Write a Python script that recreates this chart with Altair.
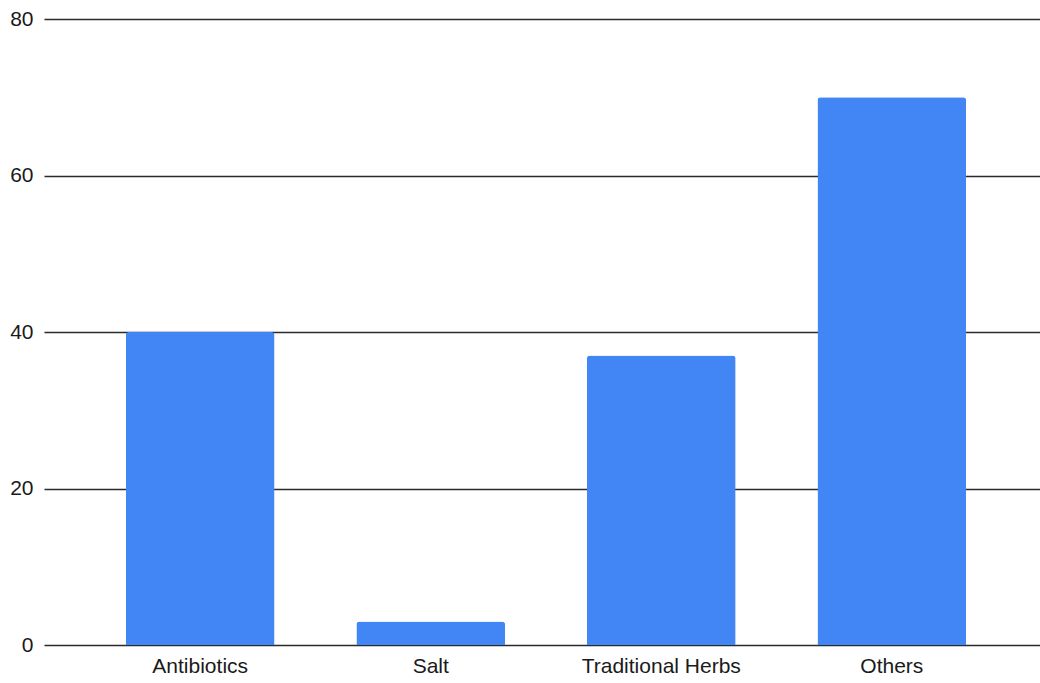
import altair as alt
import pandas as pd

categories = ["Antibiotics", "Salt", "Traditional Herbs", "Others"]
values = [40, 3, 37, 70]

df = pd.DataFrame({"category": categories, "value": values})

FONT = "Liberation Sans"

chart = alt.Chart(df).mark_bar(
    color="#4285F4", cornerRadiusTopLeft=3, cornerRadiusTopRight=3
).encode(
    x=alt.X("category:N", sort=categories, title=None,
            scale=alt.Scale(paddingInner=0.355, paddingOuter=0.355, range=[0, 1004]),
            axis=alt.Axis(labelAngle=0, ticks=False, domain=False, grid=False,
                          labelFont=FONT, labelFontSize=21, labelColor="#1a1a1a",
                          labelPadding=10)),
    y=alt.Y("value:Q", title=None,
            scale=alt.Scale(domain=[0, 80]),
            axis=alt.Axis(values=[0, 20, 40, 60, 80], ticks=False, domain=False,
                          gridColor="#2a2a2a", gridWidth=1.6, gridOpacity=1,
                          labelFont=FONT, labelFontSize=21, labelColor="#1a1a1a",
                          labelPadding=11)),
).properties(
    width=996, height=626,
    autosize=alt.AutoSizeParams(type="none"),
    padding={"left": 44, "top": 19, "right": 0, "bottom": 38},
).configure_view(stroke=None)

chart.save("out.html", embed_options={"renderer": "svg", "actions": False})
